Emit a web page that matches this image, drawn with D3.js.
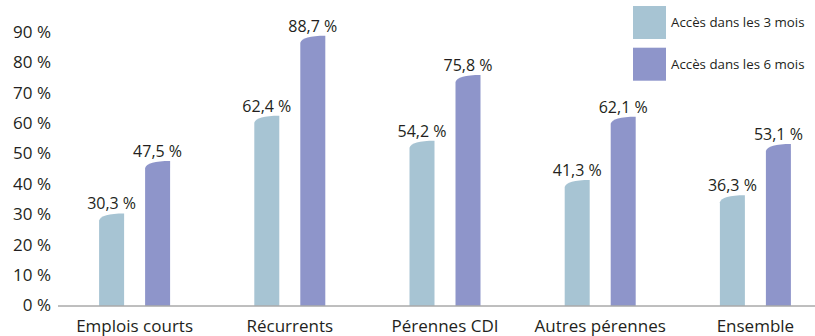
<!DOCTYPE html>
<html>
<head>
<meta charset="utf-8">
<script src="https://cdn.jsdelivr.net/npm/d3@7"></script>
<style>
  html, body { margin: 0; padding: 0; background: #fff; }
  svg { display: block; font-family: "Open Sans", sans-serif; }
</style>
</head>
<body>
<svg id="chart" width="815" height="336"></svg>
<script>
// Catégories et séries
const categories = ["Emplois courts", "Récurrents", "Pérennes CDI", "Autres pérennes", "Ensemble"];
const seriesNames = ["Accès dans les 3 mois", "Accès dans les 6 mois"];
const acces3mois = [30.3, 62.4, 54.2, 41.3, 36.3];
const acces6mois = [47.5, 88.7, 75.8, 62.1, 53.1];
const tickValues = [0, 10, 20, 30, 40, 50, 60, 70, 80, 90];
const colors = ["#a7c4d3", "#8e95ca"];

const fmt = v => d3.format(".1f")(v).replace(".", ",") + " %";

const svg = d3.select("#chart");

const x0 = d3.scaleBand().domain(categories).range([57, 833]).padding(0);
const x1 = d3.scaleBand().domain(seriesNames).range([-35.5, 35.5]).paddingInner(0.4565).paddingOuter(0);
const y = d3.scaleLinear().domain([0, 90]).range([305.5, 31.9]);
const color = d3.scaleOrdinal().domain(seriesNames).range(colors);

const rows = categories.map((c, i) => ({
  cat: c,
  values: [
    { s: seriesNames[0], v: acces3mois[i] },
    { s: seriesNames[1], v: acces6mois[i] }
  ]
}));

// Axe vertical : libellés seuls
const yAxis = d3.axisLeft(y).tickValues(tickValues).tickSize(0).tickPadding(0)
  .tickFormat(d => d + "\u00a0%");
const gy = svg.append("g").attr("transform", "translate(51,0)").call(yAxis);
gy.select(".domain").remove();
gy.selectAll("text")
  .attr("font-family", "Open Sans, sans-serif")
  .attr("font-size", 17)
  .attr("fill", "#231f20");

// Barres à sommet incurvé
function barPath(xl, w, yTop, yBase) {
  const xr = xl + w;
  const drop = 7;
  return `M${xl},${yBase} L${xl},${yTop + drop} ` +
         `C${xl + 1},${yTop + 2.5} ${xl + w * 0.4},${yTop} ${xr},${yTop} ` +
         `L${xr},${yBase} Z`;
}

const groups = svg.append("g").selectAll("g")
  .data(rows).join("g")
  .attr("transform", d => `translate(${x0(d.cat) + x0.bandwidth() / 2},0)`);

groups.selectAll("path")
  .data(d => d.values).join("path")
  .attr("d", d => barPath(x1(d.s), x1.bandwidth(), y(d.v), y(0)))
  .attr("fill", d => color(d.s));

groups.selectAll("text.val")
  .data(d => d.values).join("text")
  .attr("class", "val")
  .attr("x", d => x1(d.s) + x1.bandwidth() / 2)
  .attr("y", d => y(d.v) - 4)
  .attr("text-anchor", "middle")
  .attr("font-size", 16)
  .attr("fill", "#231f20")
  .text(d => fmt(d.v));

// Ligne de base
svg.append("line")
  .attr("x1", 58).attr("x2", 815)
  .attr("y1", y(0) + 0.5).attr("y2", y(0) + 0.5)
  .attr("stroke", "#7f7f7f").attr("stroke-width", 1);

// Libellés des catégories
svg.append("g").selectAll("text")
  .data(categories).join("text")
  .attr("x", d => x0(d) + x0.bandwidth() / 2)
  .attr("y", 332)
  .attr("text-anchor", "middle")
  .attr("font-size", 17)
  .attr("fill", "#231f20")
  .text(d => d);

// Légende
const legend = svg.append("g").selectAll("g")
  .data(seriesNames).join("g")
  .attr("transform", (d, i) => `translate(633,${6 + i * 41.7})`);
legend.append("rect")
  .attr("width", 33).attr("height", 33)
  .attr("fill", d => color(d));
legend.append("text")
  .attr("x", 38).attr("y", 16.5).attr("dy", "0.35em")
  .attr("font-size", 13.3)
  .attr("fill", "#231f20")
  .text(d => d);
</script>
</body>
</html>
